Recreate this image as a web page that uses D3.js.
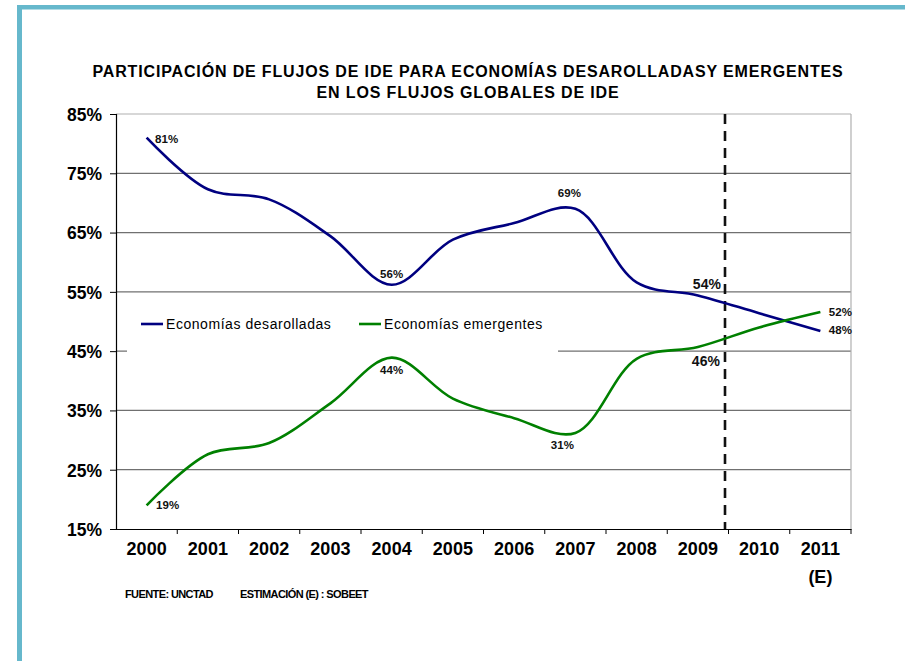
<!DOCTYPE html>
<html>
<head>
<meta charset="utf-8">
<script src="https://cdn.jsdelivr.net/npm/d3@7"></script>
<style>
  body { margin: 0; background: #fff; }
  svg { display: block; font-family: "Liberation Sans", Arial, sans-serif; }
</style>
</head>
<body>
<svg id="chart" width="905" height="661"></svg>
<script>
// data
const years = ["2000", "2001", "2002", "2003", "2004", "2005", "2006", "2007", "2008", "2009", "2010", "2011"];
const desarrolladas = [81, 72.3, 70.6, 64.4, 56.2, 63.8, 66.6, 69, 56.6, 54.4, 51.4, 48.4];
const emergentes = [19, 27.6, 29.5, 36.2, 43.9, 37, 33.7, 31.2, 43.7, 45.7, 49, 51.6];
const yTicks = [15, 25, 35, 45, 55, 65, 75, 85];
const seriesNames = ["Economías desarolladas", "Economías emergentes"];
const seriesColors = ["#000080", "#008000"];
// which points get a value label, and where: [seriesIndex, yearIndex, dx, dy, fontSize]
const pointLabels = [
  [0, 0, 20, 1, 11.5], [0, 4, 0, -11, 11.5], [0, 7, -6, -16, 11.5], [0, 9, 9, -11, 14], [0, 11, 20, -1, 11.5],
  [1, 0, 21, 0, 11.5], [1, 4, 0, 12, 11.5], [1, 7, -13, 12, 11.5], [1, 9, 8, 14, 14], [1, 11, 20, 0, 11.5]
];

const svg = d3.select("#chart");
const margin = { top: 114, left: 116, right: 54, bottom: 132 };
const width = 905 - margin.left - margin.right,
      height = 661 - margin.top - margin.bottom;

// frame
svg.append("rect").attr("x", 17).attr("y", 5).attr("width", 5).attr("height", 656).attr("fill", "#66b8cc");
svg.append("rect").attr("x", 17).attr("y", 5).attr("width", 888).attr("height", 4.5).attr("fill", "#66b8cc");

// title
svg.append("text").attr("x", 468).attr("y", 77).attr("text-anchor", "middle")
  .style("font-size", "16px").style("font-weight", "bold").style("letter-spacing", "0.85px")
  .text("PARTICIPACIÓN DE FLUJOS DE IDE PARA ECONOMÍAS DESAROLLADASY EMERGENTES");
svg.append("text").attr("x", 468).attr("y", 98).attr("text-anchor", "middle")
  .style("font-size", "16px").style("font-weight", "bold").style("letter-spacing", "0.85px")
  .text("EN LOS FLUJOS GLOBALES DE IDE");

const g = svg.append("g").attr("transform", `translate(${margin.left},${margin.top})`);

const x = d3.scaleBand().domain(years).range([0, width]);
const y = d3.scaleLinear().domain([15, 85]).range([height, 0]);
const cx = d => x(d) + x.bandwidth() / 2;

// gridlines
g.selectAll(".grid").data(yTicks.slice(1, -1)).enter().append("line")
  .attr("x1", 0).attr("x2", width).attr("y1", d => y(d)).attr("y2", d => y(d))
  .attr("stroke", "#707070").attr("stroke-width", 1.2);
g.append("line").attr("x1", 0).attr("x2", width).attr("y1", 0).attr("y2", 0)
  .attr("stroke", "#b0b0b0").attr("stroke-width", 1.2);
g.append("line").attr("x1", width).attr("x2", width).attr("y1", 0).attr("y2", height)
  .attr("stroke", "#b0b0b0").attr("stroke-width", 1.2);

// legend box hides part of the grid
g.append("rect").attr("x", 11).attr("y", 190).attr("width", 431).attr("height", 48).attr("fill", "#fff");

// axes
const yAxis = g.append("g")
  .call(d3.axisLeft(y).tickValues(yTicks).tickSize(6).tickFormat(d => d + "%"));
yAxis.select(".domain").attr("stroke", "#000").attr("stroke-width", 1.2);
yAxis.selectAll(".tick line").attr("stroke", "#000");
yAxis.selectAll("text").attr("x", -14).attr("dy", "0.36em")
  .style("font-size", "17.5px").style("font-weight", "bold").style("font-family", "Liberation Sans, Arial").attr("fill", "#000");

const xAxis = g.append("g").attr("transform", `translate(0,${height})`)
  .call(d3.axisBottom(x).tickSize(0).tickFormat(d => d));
xAxis.select(".domain").attr("stroke", "#000").attr("stroke-width", 1.2);
xAxis.selectAll("text").attr("y", 20).attr("dy", "0.36em")
  .style("font-size", "18px").style("font-weight", "bold").style("font-family", "Liberation Sans, Arial").attr("fill", "#000");
g.append("g").selectAll("line").data(years.slice(1).concat(["end"])).enter().append("line")
  .attr("x1", d => d === "end" ? width : x(d)).attr("x2", d => d === "end" ? width : x(d))
  .attr("y1", height).attr("y2", height + 5).attr("stroke", "#000");
g.append("text").attr("x", cx("2011")).attr("y", height + 48).attr("dy", "0.36em").attr("text-anchor", "middle")
  .style("font-size", "18px").style("font-weight", "bold").text("(E)");

// estimate separator
g.append("line").attr("x1", x("2010") - 3.5).attr("x2", x("2010") - 3.5)
  .attr("y1", 0).attr("y2", height)
  .attr("stroke", "#111").attr("stroke-width", 2.6).attr("stroke-dasharray", "10,7");

// lines
const line = d3.line().x((d, i) => cx(years[i])).y(d => y(d)).curve(d3.curveCatmullRom.alpha(0.5));
[desarrolladas, emergentes].forEach((s, k) => {
  g.append("path").datum(s).attr("d", line).attr("fill", "none")
    .attr("stroke", seriesColors[k]).attr("stroke-width", 2.6);
});

// point labels
const allSeries = [desarrolladas, emergentes];
g.selectAll(".lbl").data(pointLabels).enter().append("text")
  .attr("x", d => cx(years[d[1]]) + d[2])
  .attr("y", d => y(allSeries[d[0]][d[1]]) + d[3])
  .attr("dy", "0.35em").attr("text-anchor", "middle")
  .style("font-size", d => d[4] + "px").style("font-weight", "bold").attr("fill", "#111")
  .text(d => Math.round(allSeries[d[0]][d[1]]) + "%");

// legend
const leg = g.append("g").attr("transform", "translate(25,210)");
seriesNames.forEach((n, k) => {
  const ox = k === 0 ? 0 : 218;
  leg.append("line").attr("x1", ox).attr("x2", ox + 22).attr("y1", 0).attr("y2", 0)
    .attr("stroke", seriesColors[k]).attr("stroke-width", 2.6);
  leg.append("text").attr("x", ox + 25).attr("y", 0).attr("dy", "0.35em")
    .style("font-size", "14px").style("letter-spacing", "0.55px").attr("fill", "#000").text(n);
});

// source note
svg.append("text").attr("x", 125).attr("y", 598).style("font-size", "11px").style("font-weight", "bold")
  .style("letter-spacing", "-0.6px").text("FUENTE: UNCTAD");
svg.append("text").attr("x", 240).attr("y", 598).style("font-size", "11px").style("font-weight", "bold")
  .style("letter-spacing", "-0.6px").text("ESTIMACIÓN (E) : SOBEET");
</script>
</body>
</html>
